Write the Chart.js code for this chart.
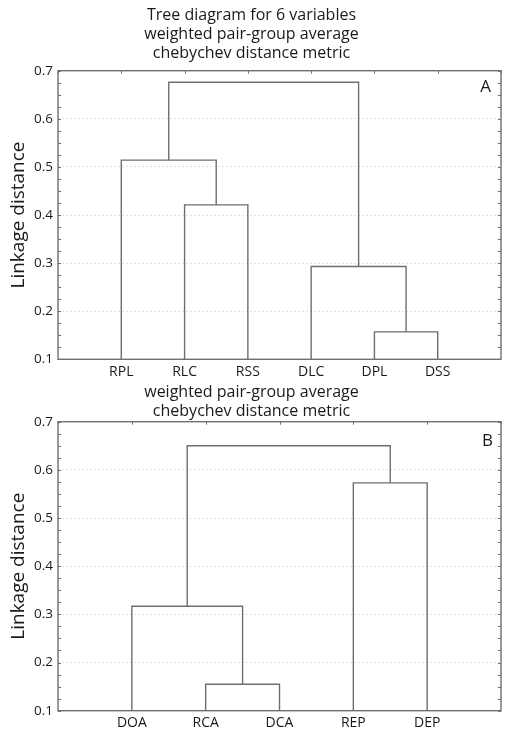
<!DOCTYPE html>
<html>
<head>
<meta charset="utf-8">
<script src="https://cdn.jsdelivr.net/npm/chart.js@4.4.0/dist/chart.umd.min.js"></script>
<style>
  html, body { margin: 0; padding: 0; background: #fff; }
  body { width: 505px; height: 731px; position: relative; overflow: hidden; }
  .wrap { position: absolute; left: 0; width: 505px; }
  #wa { top: 0; height: 382px; }
  #wb { top: 382px; height: 349px; }
</style>
</head>
<body>
<div class="wrap" id="wa"><canvas id="ca"></canvas></div>
<div class="wrap" id="wb"><canvas id="cb"></canvas></div>
<script>
// ---- Data: panel A ----
const leavesA = ['RPL', 'RLC', 'RSS', 'DLC', 'DPL', 'DSS'];
// merges (scipy-style: leaves are 0..n-1, new clusters n, n+1, ...)
const mergeLeftA   = [4, 3, 1, 0, 9];
const mergeRightA  = [5, 6, 2, 8, 7];
const mergeHeightA = [0.157, 0.293, 0.421, 0.514, 0.676];
const titleA = ['Tree diagram for 6 variables', 'weighted pair-group average', 'chebychev distance metric'];

// ---- Data: panel B ----
const leavesB = ['DOA', 'RCA', 'DCA', 'REP', 'DEP'];
const mergeLeftB   = [1, 0, 3, 6];
const mergeRightB  = [2, 5, 4, 7];
const mergeHeightB = [0.155, 0.317, 0.573, 0.650];
const titleB = ['weighted pair-group average', 'chebychev distance metric'];

// ---- Axis ----
const yTicks = [0.1, 0.2, 0.3, 0.4, 0.5, 0.6, 0.7];
const yTitle = 'Linkage distance';

const FONT = '"Open Sans", "Liberation Sans", Arial, sans-serif';
const TEXT = '#1a1a1a';
const LINE = '#6e6e6e';
const FRAME = '#707070';

// Build dendrogram link datasets (U shapes) from the merge structure
function buildLinks(leaves, L, R, H, base) {
  const n = leaves.length;
  const pos = [], hgt = [];
  for (let i = 0; i < n; i++) { pos.push(i + 1); hgt.push(base); }
  const sets = [];
  for (let k = 0; k < H.length; k++) {
    const a = L[k], b = R[k], h = H[k];
    sets.push({
      data: [
        { x: pos[a], y: hgt[a] },
        { x: pos[a], y: h },
        { x: pos[b], y: h },
        { x: pos[b], y: hgt[b] }
      ],
      showLine: true,
      borderColor: LINE,
      borderWidth: 1.4,
      pointRadius: 0,
      tension: 0,
      fill: false
    });
    pos.push((pos[a] + pos[b]) / 2);
    hgt.push(h);
  }
  return sets;
}

const framePlugin = {
  id: 'frame',
  afterDatasetsDraw(chart, args, opts) {
    const { ctx, chartArea: a, scales } = chart;
    ctx.save();
    // minor inward ticks
    ctx.strokeStyle = FRAME;
    ctx.lineWidth = 1;
    ctx.beginPath();
    const ys = scales.y;
    for (let v = ys.min; v <= ys.max + 1e-9; v += (ys.max - ys.min) / 24) {
      const py = Math.round(ys.getPixelForValue(v)) + 0.5;
      ctx.moveTo(a.left, py); ctx.lineTo(a.left + 3, py);
      ctx.moveTo(a.right, py); ctx.lineTo(a.right - 3, py);
    }
    const xs = scales.x;
    for (let v = Math.ceil(xs.min); v <= xs.max; v++) {
      const px = Math.round(xs.getPixelForValue(v)) + 0.5;
      ctx.moveTo(px, a.top); ctx.lineTo(px, a.top + 3);
    }
    ctx.stroke();
    // frame
    ctx.lineWidth = 1.4;
    ctx.strokeRect(a.left, a.top, a.right - a.left, a.bottom - a.top);
    // panel letter
    ctx.fillStyle = TEXT;
    ctx.font = '17px ' + FONT;
    ctx.textAlign = 'right';
    ctx.textBaseline = 'middle';
    ctx.fillText(opts.letter, a.right - opts.dx, a.top + opts.dy);
    ctx.restore();
  }
};

function makeChart(id, leaves, L, R, H, title, tpad, xAxisH, letterOpts) {
  const base = yTicks[0];
  return new Chart(document.getElementById(id), {
    type: 'scatter',
    data: { datasets: buildLinks(leaves, L, R, H, base) },
    plugins: [framePlugin],
    options: {
      responsive: true,
      maintainAspectRatio: false,
      animation: false,
      layout: { padding: { left: 0, right: 2, top: 0, bottom: 0 } },
      plugins: {
        legend: { display: false },
        tooltip: { enabled: false },
        title: {
          display: true,
          text: title,
          color: TEXT,
          font: { family: FONT, size: 16, weight: 'normal', lineHeight: 19 / 16 },
          padding: tpad
        },
        frame: letterOpts
      },
      scales: {
        x: {
          type: 'linear',
          min: 0,
          max: leaves.length + 1,
          afterBuildTicks(scale) {
            const t = [];
            for (let i = 0; i <= leaves.length + 1; i++) t.push({ value: i });
            scale.ticks = t;
          },
          afterFit(scale) { scale.height = xAxisH; },
          grid: { display: false, drawTicks: false },
          border: { display: false },
          ticks: {
            autoSkip: false,
            maxRotation: 0,
            padding: 4,
            color: TEXT,
            font: { family: FONT, size: 14 },
            callback: (v) => (v >= 1 && v <= leaves.length) ? leaves[v - 1] : ''
          }
        },
        y: {
          type: 'linear',
          min: yTicks[0],
          max: yTicks[yTicks.length - 1],
          afterBuildTicks(scale) { scale.ticks = yTicks.map(v => ({ value: v })); },
          afterFit(scale) { scale.width = 58; },
          grid: { color: '#e2e2e2', lineWidth: 1, drawTicks: false },
          border: { display: false, dash: [2, 2] },
          ticks: {
            padding: 5,
            color: TEXT,
            font: { family: FONT, size: 13.5 },
            callback: (v) => Number(v).toFixed(1)
          },
          title: {
            display: true,
            text: yTitle,
            color: TEXT,
            font: { family: FONT, size: 19, weight: 'normal' },
            padding: { top: 7, bottom: 0 }
          }
        }
      }
    }
  });
}

makeChart('ca', leavesA, mergeLeftA, mergeRightA, mergeHeightA, titleA,
  { top: 5.8, bottom: 7.9 }, 22.7, { letter: 'A', dx: 10, dy: 16 });
makeChart('cb', leavesB, mergeLeftB, mergeRightB, mergeHeightB, titleB,
  { top: 0.5, bottom: 1.2 }, 20.3, { letter: 'B', dx: 8, dy: 19 });
</script>
</body>
</html>
